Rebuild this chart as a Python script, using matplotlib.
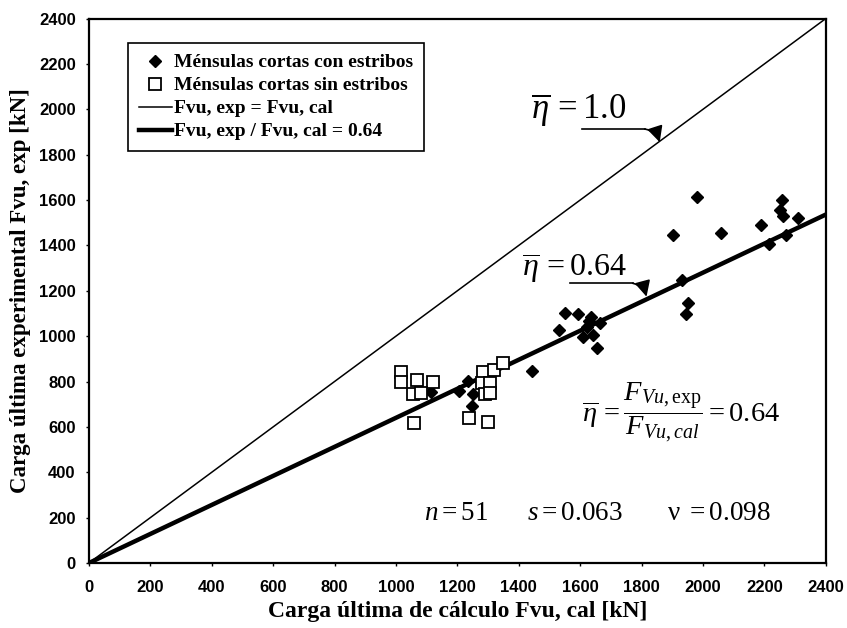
import matplotlib.pyplot as plt
import numpy as np

plt.rcParams['mathtext.fontset'] = 'custom'
plt.rcParams['mathtext.rm'] = 'Liberation Serif'
plt.rcParams['mathtext.it'] = 'Liberation Serif:italic'
plt.rcParams['mathtext.bf'] = 'Liberation Serif:bold'

# Ménsulas cortas con estribos (Fvu,cal ; Fvu,exp) [kN]
con_cal = [1115, 1206, 1235, 1251, 1249, 1442,
           1531, 1550, 1593, 1634, 1664, 1610, 1642, 1656, 1628, 1622,
           1903, 1979, 2057, 1930, 1952, 1944,
           2190, 2215, 2250, 2258, 2262, 2270, 2310]
con_exp = [755, 758, 802, 745, 692, 848,
           1027, 1100, 1097, 1085, 1056, 997, 1005, 946, 1065, 1040,
           1446, 1614, 1453, 1247, 1145, 1097,
           1490, 1405, 1555, 1600, 1530, 1445, 1520]

# Ménsulas cortas sin estribos
sin_cal = [1018, 1018, 1069, 1121, 1056, 1080, 1059,
           1284, 1319, 1349, 1279, 1306, 1290, 1306, 1238, 1300]
sin_exp = [843, 799, 807, 799, 745, 750, 615,
           843, 851, 883, 795, 795, 745, 748, 638, 623]

line_x = [0, 2400]
ratio = 0.64
line_eq = [x for x in line_x]
line_fit = [ratio * x for x in line_x]

fig = plt.figure(figsize=(8.47, 6.28), dpi=100)
ax = fig.add_axes([0.105, 0.1035, 0.870, 0.867])

ax.plot(line_x, line_eq, '-', color='black', lw=1.1, label='Fvu, exp = Fvu, cal', zorder=2)
ax.plot(line_x, line_fit, '-', color='black', lw=3.2, label='Fvu, exp / Fvu, cal = 0.64', zorder=2)
ax.plot(con_cal, con_exp, 'D', color='black', ms=6.5, ls='none',
        label='Ménsulas cortas con estribos', zorder=3)
ax.plot(sin_cal, sin_exp, 's', mfc='white', mec='black', mew=1.3, ms=9, ls='none',
        label='Ménsulas cortas sin estribos', zorder=4)

ax.set_xlim(0, 2400)
ax.set_ylim(0, 2400)
ax.set_xticks(np.arange(0, 2401, 200))
ax.set_yticks(np.arange(0, 2401, 200))
for lab in ax.get_xticklabels() + ax.get_yticklabels():
    lab.set_fontfamily('Liberation Sans')
    lab.set_fontweight('bold')
    lab.set_fontsize(12)
ax.tick_params(axis='both', direction='out', length=2.5, width=1)
ax.tick_params(axis='x', pad=10)
ax.tick_params(axis='y', pad=7)
for sp in ax.spines.values():
    sp.set_linewidth(1.6)

ax.set_xlabel('Carga última de cálculo Fvu, cal [kN]', family='Liberation Serif',
              fontweight='bold', fontsize=17, labelpad=4)
ax.set_ylabel('Carga última experimental Fvu, exp [kN]', family='Liberation Serif',
              fontweight='bold', fontsize=16.5, labelpad=6)

# legend
handles, labels = ax.get_legend_handles_labels()
order = [2, 3, 0, 1]
leg = ax.legend([handles[i] for i in order], [labels[i] for i in order],
                loc='upper left', bbox_to_anchor=(0.053, 0.955), borderaxespad=0,
                fancybox=False, edgecolor='black', framealpha=1,
                prop={'family': 'Liberation Serif', 'weight': 'bold', 'size': 14},
                handlelength=1.7, handletextpad=0.1, labelspacing=0.28, borderpad=0.55)
leg.get_frame().set_linewidth(1.2)

# eta = 1.0 arrow
ax.text(1440, 1958, r'$\overline{\eta}\,=1.0$', fontsize=25, ha='left', va='baseline')
ax.plot([1605, 1810], [1913, 1913], color='black', lw=1.2)
ax.annotate('', xy=(1859, 1855), xytext=(1810, 1913),
            arrowprops=dict(arrowstyle='-|>', color='black', lw=1.2, mutation_scale=24,
                            connectionstyle='arc3,rad=-0.3', shrinkA=0, shrinkB=0))

# eta = 0.64 arrow
ax.text(1410, 1262, r'$\overline{\eta}\,=0.64$', fontsize=23, ha='left', va='baseline')
ax.plot([1566, 1771], [1233, 1233], color='black', lw=1.2)
ax.annotate('', xy=(1816, 1174), xytext=(1771, 1233),
            arrowprops=dict(arrowstyle='-|>', color='black', lw=1.2, mutation_scale=24,
                            connectionstyle='arc3,rad=-0.3', shrinkA=0, shrinkB=0))

ax.text(1605, 660, r'$\overline{\eta}\,=\dfrac{F_{Vu,\mathrm{exp}}}{F_{Vu,cal}}=0.64$',
        fontsize=20.5, ha='left', va='center')

ax.text(1090, 190, r'$n=51$', fontsize=19.5, ha='left', va='baseline')
ax.text(1426, 190, r'$s=0.063$', fontsize=19.5, ha='left', va='baseline')
ax.text(1882, 190, r'$\mathrm{\nu}\ =0.098$', fontsize=19.5, ha='left', va='baseline')

fig.savefig('out.png', dpi=100)
